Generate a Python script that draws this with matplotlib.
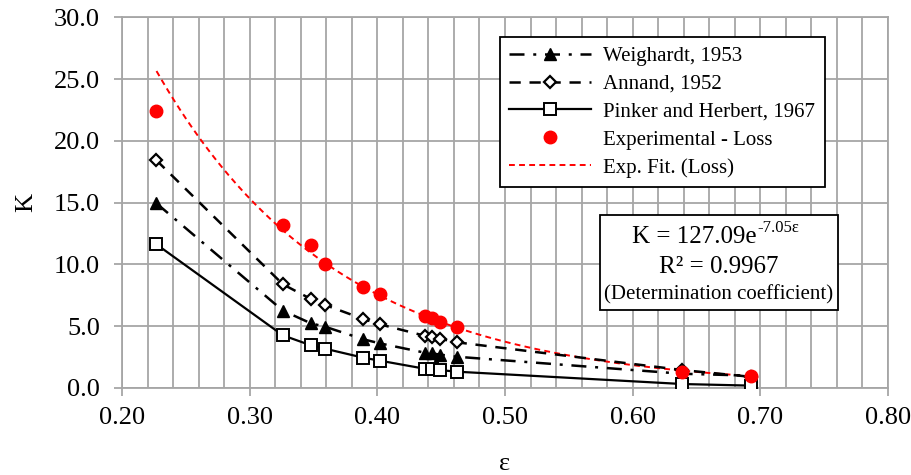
import numpy as np
import matplotlib
matplotlib.use("Agg")
import matplotlib.pyplot as plt
from matplotlib.patches import Rectangle

plt.rcParams['font.family'] = ['Liberation Serif', 'DejaVu Serif']

# porosity values (shared by all series)
eps = [0.227, 0.326, 0.348, 0.359, 0.389, 0.402, 0.437, 0.443, 0.449, 0.462, 0.639, 0.693]

k_weighardt = [14.94, 6.26, 5.23, 4.96, 3.94, 3.61, 2.86, 2.80, 2.70, 2.53, 1.15, 1.00]
k_annand = [18.42, 8.39, 7.20, 6.72, 5.58, 5.15, 4.23, 4.13, 3.99, 3.70, 1.45, 0.90]
k_pinker = [11.62, 4.26, 3.45, 3.18, 2.45, 2.21, 1.56, 1.50, 1.45, 1.32, 0.32, 0.19]
k_exp = [22.41, 13.21, 11.55, 10.06, 8.20, 7.63, 5.85, 5.64, 5.37, 4.91, 1.32, 0.97]

# exponential fit shown in the chart: K = a * exp(b * eps)
fit_a = 127.09
fit_b = -7.05
fit_r2 = 0.9967

grid_col = '#a6a6a6'

fig = plt.figure(figsize=(9.12, 4.75), dpi=100)
ax = fig.add_axes([0.1338, 0.1832, 0.8399, 0.7804])

ax.plot(eps, k_weighardt, color='black', lw=1.8, dashes=(6, 3.5, 1.2, 3.5),
        marker='^', ms=8, mfc='black', mec='black', label='Weighardt, 1953', zorder=4)
ax.plot(eps, k_annand, color='black', lw=1.8, dashes=(4.5, 3.5),
        marker='D', ms=6, mfc='white', mec='black', mew=1.6, label='Annand, 1952', zorder=4)
ax.plot(eps, k_pinker, color='black', lw=1.6, ls='-',
        marker='s', ms=8, mfc='white', mec='black', mew=1.4, label='Pinker and Herbert, 1967', zorder=4)
ax.plot(eps, k_exp, ls='none', marker='o', ms=9, mfc='red', mec='red',
        label='Experimental - Loss', zorder=5)

# trendline drawn from the fitted equation printed on the chart
xf = np.linspace(eps[0], eps[-1], 200)
ax.plot(xf, fit_a * np.exp(fit_b * xf), color='red', lw=1.4, dashes=(3, 2.2),
        label='Exp. Fit. (Loss)', zorder=3)

ax.set_xlim(0.2, 0.8)
ax.set_ylim(0, 30)
ax.set_xticks(np.arange(0.2, 0.81, 0.1))
ax.set_xticks(np.arange(0.2, 0.81, 0.02), minor=True)
ax.set_yticks(np.arange(0, 30.1, 5))
ax.set_xticklabels([f'{v:.2f}' for v in np.arange(0.2, 0.81, 0.1)])
ax.set_yticklabels([f'{v:.1f}' for v in np.arange(0, 30.1, 5)])

ax.grid(True, which='major', color=grid_col, lw=1.3)
ax.grid(True, which='minor', axis='x', color=grid_col, lw=1.3)
ax.set_axisbelow(True)
for s in ax.spines.values():
    s.set_color(grid_col)
    s.set_linewidth(1.3)
ax.tick_params(which='major', direction='out', length=6, width=1.3, color=grid_col,
               labelsize=19, labelcolor='black')
ax.tick_params(axis='x', which='major', pad=8)
ax.tick_params(axis='y', which='major', pad=10)
ax.tick_params(which='minor', length=0)

ax.set_xlabel('ε', fontsize=19, labelpad=17)
ax.set_ylabel('K', fontsize=19, labelpad=12)

leg = ax.legend(loc='upper left', bbox_to_anchor=(0.4935, 0.947), borderaxespad=0,
                fontsize=15, handlelength=3.9, handletextpad=0.6, labelspacing=0.4,
                borderpad=0.45, fancybox=False, framealpha=1, edgecolor='black')
leg.get_frame().set_linewidth(1.3)

# equation box
ax.add_patch(Rectangle((0.624, 0.210), 0.3107, 0.257, transform=ax.transAxes,
                       facecolor='white', edgecolor='black', lw=1.3, zorder=6))
t1 = ax.text(0.829, 0.407, f'K = {fit_a:.2f}e', transform=ax.transAxes,
             ha='right', va='center', fontsize=18, zorder=7)
ax.annotate(f'{fit_b:.2f}ε', xy=(1.0, 0.55), xycoords=t1, ha='left', va='bottom',
            fontsize=12, zorder=7)
ax.text(0.779, 0.326, f'R² = {fit_r2:.4f}', transform=ax.transAxes,
        ha='center', va='center', fontsize=18, zorder=7)
ax.text(0.779, 0.251, '(Determination coefficient)', transform=ax.transAxes,
        ha='center', va='center', fontsize=15, zorder=7)

fig.savefig('out.png', dpi=100)
